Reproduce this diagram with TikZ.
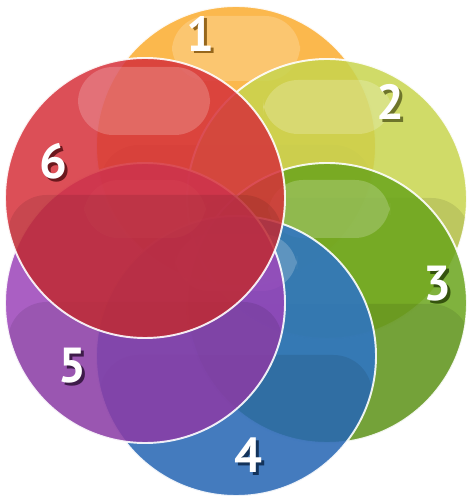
\documentclass[tikz,border=0pt]{standalone}
\usepackage{fontspec}
\newfontfamily\numfont{PT Sans}
\definecolor{cone}{HTML}{FAAB2E}
\definecolor{ctwo}{HTML}{C8D54E}
\definecolor{cthree}{HTML}{6AA51C}
\definecolor{cfour}{HTML}{2B72CA}
\definecolor{cfive}{HTML}{9B43B9}
\definecolor{csix}{HTML}{D6303A}
\newcommand\shadowed[2]{\rlap{\kern1.7pt\raisebox{-1.7pt}{\textcolor{#1}{#2}}}#2}
\tikzset{
  bubble/.style={fill opacity=0.85},
  rim/.style={draw=white, line width=1.1pt, draw opacity=0.9},
  gloss/.style={fill=white, fill opacity=0.2, rounded corners=20pt},
  dark/.style={fill=black, fill opacity=0.09, rounded corners=22pt},
  num/.style={font={\numfont\bfseries\fontsize{28}{28}\selectfont}, text=white, inner sep=0pt},
}
\begin{document}
\begin{tikzpicture}[x=0.02cm, y=0.02cm]
\useasboundingbox (0,0) rectangle (472,500);

% circle 1
\begin{scope}
\clip (236,354) circle (140);
\fill[bubble, fill=cone] (236,354) circle (140);
\fill[gloss] (172,419) rectangle (300,484);
\fill[dark] (100,355) rectangle (372,200);
\end{scope}
\draw[rim] (236,354) circle (140);
% circle 2
\begin{scope}
\clip (327,301) circle (140);
\fill[bubble, fill=ctwo] (327,301) circle (140);
\fill[gloss] (263,366) rectangle (393,420);
\fill[dark] (190,302) rectangle (470,150);
\end{scope}
\draw[rim] (327,301) circle (140);
% circle 3
\begin{scope}
\clip (327,197) circle (140);
\fill[bubble, fill=cthree] (327,197) circle (140);
\fill[gloss] (268,262) rectangle (390,320);
\fill[dark] (190,196) rectangle (470,40);
\end{scope}
\draw[rim] (327,197) circle (140);
% circle 4
\begin{scope}
\clip (236,144) circle (140);
\fill[bubble, fill=cfour] (236,144) circle (140);
\fill[gloss] (175,209) rectangle (297,266);
\fill[dark] (100,145) rectangle (372,-10);
\end{scope}
\draw[rim] (236,144) circle (140);
% circle 5
\begin{scope}
\clip (145,197) circle (140);
\fill[bubble, fill=cfive] (145,197) circle (140);
\fill[gloss] (84,262) rectangle (206,320);
\fill[dark] (8,198) rectangle (282,40);
\end{scope}
\draw[rim] (145,197) circle (140);
% circle 6
\begin{scope}
\clip (145,302) circle (140);
\fill[bubble, fill=csix] (145,302) circle (140);
\fill[gloss] (78,365) rectangle (210,433);
\fill[dark] (8,305) rectangle (282,150);
\end{scope}
\draw[rim] (145,302) circle (140);

% numbers
\node[num] (n1) at (200,465) {\shadowed{cone!60!black}{1}};
\node[num] (n2) at (390,397) {\shadowed{ctwo!55!black}{2}};
\node[num] (n3) at (437,215) {\shadowed{cthree!50!black}{3}};
\node[num] (n4) at (248,43) {\shadowed{cfour!45!black}{4}};
\node[num] (n5) at (72,133) {\shadowed{cfive!40!black}{5}};
\node[num] (n6) at (53,337) {\shadowed{csix!50!black}{6}};
\end{tikzpicture}
\end{document}
